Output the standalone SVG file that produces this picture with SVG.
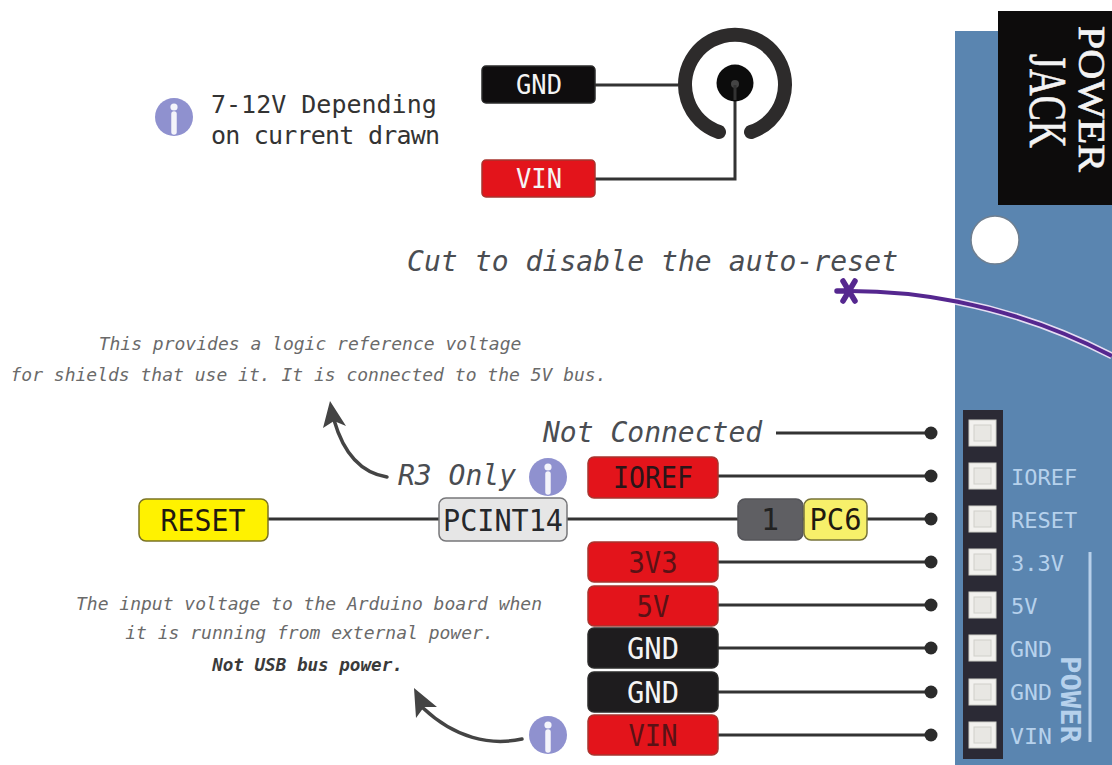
<svg xmlns="http://www.w3.org/2000/svg" width="1112" height="765" viewBox="0 0 1112 765">
<style>
.m{font-family:"DejaVu Sans Mono","Liberation Mono",monospace}
.lab{font-size:30px;text-anchor:middle;dominant-baseline:central}
.d{fill:#2a1518}.w{fill:#f4f4f4}.k{fill:#1f1a10}
.box{stroke-width:1.5;stroke-linejoin:round}
.red{fill:#e3141b;stroke:#a8352f}.blk{fill:#1e1c1e;stroke:#2b2b2b}
.big{font-size:28px;font-style:italic;fill:#4a4d52}
.note{font-size:18px;font-style:italic;fill:#6a6a6a;text-anchor:middle}
.pin{font-size:22px;fill:#b6d1ec}
.wire{fill:none;stroke:#333;stroke-width:3}
.pad{fill:#f2f1ee;stroke:#cfcfc9;stroke-width:1}
.padin{fill:#e8e7e3;stroke:#d0d0ca;stroke-width:1}
.curve{fill:none;stroke:#444;stroke-width:3.5;stroke-linecap:round}
.jack{font-family:"Liberation Serif",serif;fill:#f4f4f4;stroke:#f4f4f4;stroke-width:.6}
</style>
<defs>
<g id="info"><circle r="19" fill="#8f91cf"/><circle cy="-10" r="3.6" fill="#fff" opacity=".9"/><line y1="-3" y2="15" stroke="#fff" stroke-width="5.5" stroke-linecap="round" opacity=".9"/></g>
<g id="dot"><circle r="6.500" fill="#2b2b2b"/></g>
<clipPath id="onboard"><rect x="955" y="0" width="157" height="765"/></clipPath>
</defs>
<rect width="1112" height="765" fill="#fff"/>

<g id="board">
<rect x="955" y="31" width="157" height="734" fill="#5a85b0"/>
<rect x="998" y="11" width="114" height="194" fill="#0d0c0c"/>
<text class="jack" transform="translate(1079 26) rotate(90)" font-size="37" textLength="146" lengthAdjust="spacingAndGlyphs">POWER</text>
<text class="jack" transform="translate(1030 54) rotate(90)" font-size="52" textLength="94" lengthAdjust="spacingAndGlyphs">JACK</text>
<circle cx="995" cy="240" r="24" fill="#fff" stroke="#6f7f90" stroke-width="1.500"/>
</g>

<g id="header">
<rect x="963" y="410" width="40" height="349" fill="#2b2a35"/>
<g id="pad-nc"><rect class="pad" x="969" y="420" width="27" height="26"/><rect class="padin" x="974" y="425" width="17" height="16"/></g>
<g id="pad-ioref"><rect class="pad" x="969" y="463" width="27" height="26"/><rect class="padin" x="974" y="468" width="17" height="16"/><text class="m pin" x="1011" y="485">IOREF</text></g>
<g id="pad-reset"><rect class="pad" x="969" y="506" width="27" height="26"/><rect class="padin" x="974" y="511" width="17" height="16"/><text class="m pin" x="1011" y="528">RESET</text></g>
<g id="pad-33v"><rect class="pad" x="969" y="549" width="27" height="26"/><rect class="padin" x="974" y="554" width="17" height="16"/><text class="m pin" x="1011" y="571">3.3V</text></g>
<g id="pad-5v"><rect class="pad" x="969" y="592" width="27" height="26"/><rect class="padin" x="974" y="597" width="17" height="16"/><text class="m pin" x="1011" y="614">5V</text></g>
<g id="pad-gnd1"><rect class="pad" x="969" y="635" width="27" height="26"/><rect class="padin" x="974" y="640" width="17" height="16"/><text class="m pin" x="1010" y="657" textLength="42" lengthAdjust="spacingAndGlyphs">GND</text></g>
<g id="pad-gnd2"><rect class="pad" x="969" y="679" width="27" height="26"/><rect class="padin" x="974" y="684" width="17" height="16"/><text class="m pin" x="1010" y="700" textLength="42" lengthAdjust="spacingAndGlyphs">GND</text></g>
<g id="pad-vin"><rect class="pad" x="969" y="722" width="27" height="26"/><rect class="padin" x="974" y="727" width="17" height="16"/><text class="m pin" x="1010" y="744" textLength="42" lengthAdjust="spacingAndGlyphs">VIN</text></g>
<line x1="1090" y1="552" x2="1090" y2="742" stroke="#b8d0ea" stroke-width="3"/>
<text class="m" transform="translate(1061 656) rotate(90)" font-size="26" font-weight="bold" fill="#b6d1ec" textLength="87" lengthAdjust="spacingAndGlyphs">POWER</text>
</g>

<g id="connectors">
<path class="wire" d="M595 85H678"/>
<path class="wire" d="M595 179H735V85"/>
<path class="wire" d="M776 433H931"/>
<path class="wire" d="M718 476H931"/>
<path class="wire" d="M268 519H931"/>
<path class="wire" d="M718 562H931"/>
<path class="wire" d="M718 605H931"/>
<path class="wire" d="M718 648H931"/>
<path class="wire" d="M718 692H931"/>
<path class="wire" d="M718 735H931"/>
<use href="#dot" x="931" y="433"/><use href="#dot" x="931" y="476"/><use href="#dot" x="931" y="519"/><use href="#dot" x="931" y="562"/><use href="#dot" x="931" y="605"/><use href="#dot" x="931" y="648"/><use href="#dot" x="931" y="692"/><use href="#dot" x="931" y="735"/>
<path d="M850 291C900 291 1000 298 1112 356" fill="none" stroke="#e6def3" stroke-width="7" clip-path="url(#onboard)"/>
<path d="M850 291C900 291 1000 298 1112 356" fill="none" stroke="#55278f" stroke-width="4"/>
<path d="M837 291H850M843 281L855 301M855 281L843 301" fill="none" stroke="#55278f" stroke-width="5.500" stroke-linecap="round"/>
<path class="curve" d="M387 477C362 473 344 455 334 420"/>
<path d="M330 401L346 426L334 421L323 428Z" fill="#444"/>
<path class="curve" d="M522 739C490 746 455 738 423 708"/>
<path d="M414 688L437 707L424 707L416 718Z" fill="#444"/>
</g>

<g id="jack">
<path d="M719 132A50 50 0 1 1 751 132" fill="none" stroke="#2d2b2b" stroke-width="14" stroke-linecap="round"/>
<circle cx="735" cy="83" r="18.500" fill="#0c0c0c"/>
<circle cx="735" cy="84" r="4" fill="#444"/>
<line x1="735" y1="85" x2="735" y2="100" stroke="#333" stroke-width="3"/>
</g>

<g id="jack-gnd"><rect class="box blk" x="482" y="66" width="113" height="37" rx="4" style="fill:#0f0d0e"/><text class="m lab w" x="539" y="84" style="font-size:27px" textLength="46" lengthAdjust="spacingAndGlyphs">GND</text></g>
<g id="jack-vin"><rect class="box red" x="482" y="160" width="113" height="37" rx="4"/><text class="m lab w" x="539" y="178" style="font-size:27px" textLength="46" lengthAdjust="spacingAndGlyphs">VIN</text></g>

<g id="jack-note">
<use href="#info" x="174" y="117"/>
<text class="m" x="211" y="113" font-size="25" fill="#333">7-12V Depending</text>
<text class="m" x="211" y="144" font-size="25" fill="#333" textLength="229">on current drawn</text>
</g>

<g id="cut-note"><text class="m big" x="407" y="271" textLength="491">Cut to disable the auto-reset</text></g>

<g id="ioref-note">
<text class="m note" x="310" y="350">This provides a logic reference voltage</text>
<text class="m note" x="308.500" y="381">for shields that use it. It is connected to the 5V bus.</text>
</g>
<g id="r3-only"><text class="m big" x="398" y="485">R3 Only</text><use href="#info" x="548" y="477"/></g>
<g id="not-connected"><text class="m big" x="543" y="442">Not Connected</text></g>

<g id="ioref"><rect class="box red" x="588" y="457" width="130" height="41" rx="6"/><text class="m lab d" x="653" y="477" textLength="80" lengthAdjust="spacingAndGlyphs">IOREF</text></g>
<g id="v33"><rect class="box red" x="588" y="542" width="130" height="40" rx="6"/><text class="m lab" x="653" y="562" fill="#5a1216" textLength="49" lengthAdjust="spacingAndGlyphs">3V3</text></g>
<g id="v5"><rect class="box red" x="588" y="586" width="130" height="40" rx="6"/><text class="m lab" x="653" y="606" fill="#5a1216" textLength="33" lengthAdjust="spacingAndGlyphs">5V</text></g>
<g id="gnd1"><rect class="box blk" x="588" y="628" width="130" height="40" rx="6"/><text class="m lab w" x="653" y="648" textLength="52" lengthAdjust="spacingAndGlyphs">GND</text></g>
<g id="gnd2"><rect class="box blk" x="588" y="672" width="130" height="40" rx="6"/><text class="m lab w" x="653" y="692" textLength="52" lengthAdjust="spacingAndGlyphs">GND</text></g>
<g id="vin"><rect class="box red" x="588" y="715" width="130" height="40" rx="6"/><text class="m lab" x="653" y="735" fill="#5a1216" textLength="49" lengthAdjust="spacingAndGlyphs">VIN</text></g>

<g id="reset"><rect class="box" x="139" y="499" width="129" height="42" rx="7" fill="#fff200" stroke="#7a7326"/><text class="m lab k" x="203" y="520" textLength="85" lengthAdjust="spacingAndGlyphs">RESET</text></g>
<g id="pcint14"><rect class="box" x="439" y="498" width="128" height="43" rx="7" fill="#e6e6e6" stroke="#77777a"/><text class="m lab" x="503" y="520" fill="#26282b" textLength="120" lengthAdjust="spacingAndGlyphs">PCINT14</text></g>
<g id="pin1"><rect class="box" x="738" y="499" width="65" height="41" rx="7" fill="#5f5f63" stroke="#55555a"/><text class="m lab" x="770" y="519" fill="#222">1</text></g>
<g id="pc6"><rect class="box" x="804" y="499" width="63" height="41" rx="7" fill="#f7f06a" stroke="#77733a"/><text class="m lab k" x="835.500" y="519" textLength="52" lengthAdjust="spacingAndGlyphs">PC6</text></g>

<g id="vin-note">
<text class="m note" x="309" y="610">The input voltage to the Arduino board when</text>
<text class="m note" x="309.500" y="639">it is running from external power.</text>
<text class="m note" x="307.500" y="671" font-weight="bold" style="font-size:17.600px;fill:#3a3a3a">Not USB bus power.</text>
<use href="#info" x="548" y="735"/>
</g>
</svg>
